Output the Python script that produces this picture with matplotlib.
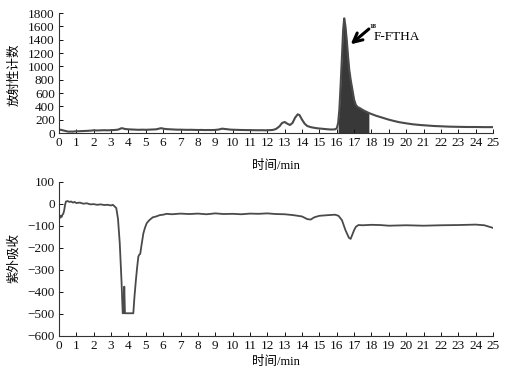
import numpy as np
import matplotlib
matplotlib.use("Agg")
import matplotlib.pyplot as plt

plt.rcParams['font.family'] = ['Liberation Serif', 'Noto Sans CJK SC']
plt.rcParams['axes.unicode_minus'] = True

# ---- data: radioactivity trace ----
t_rad = [0.0, 0.1, 0.2, 0.3, 0.4, 0.5, 0.6, 0.7, 0.8, 0.9, 1.0, 1.2, 1.4, 1.6, 1.8,
         2.0, 2.2, 2.4, 2.6, 2.8, 3.0, 3.2, 3.4, 3.6, 3.7, 3.8, 4.0, 4.2, 4.4, 4.6,
         4.8, 5.0, 5.2, 5.4, 5.6, 5.8, 5.9, 6.0, 6.2, 6.4, 6.6, 6.8, 7.0, 7.2, 7.4,
         7.6, 7.8, 8.0, 8.2, 8.4, 8.6, 8.8, 9.0, 9.2, 9.4, 9.5, 9.7, 9.9, 10.1, 10.3,
         10.5, 10.7, 10.9, 11.1, 11.3, 11.5, 11.7, 11.9, 12.1, 12.3, 12.5, 12.7, 12.85,
         13.0, 13.15, 13.3, 13.45, 13.6, 13.75, 13.85, 14.0, 14.15, 14.3, 14.5, 14.7,
         14.9, 15.1, 15.3, 15.5, 15.7, 15.9, 16.0, 16.08, 16.15, 16.22, 16.3, 16.37,
         16.43, 16.5, 16.58, 16.65, 16.72, 16.8, 16.9, 17.0, 17.1, 17.2, 17.35, 17.5,
         17.65, 17.8, 17.85, 18.0, 18.25, 18.5, 18.75, 19.0, 19.3, 19.6, 20.0, 20.4,
         20.8, 21.2, 21.6, 22.0, 22.5, 23.0, 23.5, 24.0, 24.5, 25.0]
counts = [50, 48, 42, 35, 28, 22, 20, 22, 20, 24, 25, 28, 30, 32, 35,
          40, 38, 40, 42, 40, 42, 45, 50, 72, 68, 60, 55, 52, 50, 48,
          50, 48, 50, 52, 55, 68, 72, 65, 58, 55, 52, 50, 50, 48, 47,
          48, 46, 45, 46, 44, 45, 44, 46, 52, 65, 62, 55, 50, 48, 46,
          45, 44, 43, 42, 42, 41, 42, 40, 42, 45, 60, 100, 150,
          165, 140, 120, 150, 230, 280, 270, 200, 140, 105, 88, 78,
          70, 65, 60, 55, 52, 55, 70, 150, 350, 700, 1150, 1550,
          1720, 1600, 1380, 1150, 950, 800, 650, 500, 420, 390, 370, 345,
          325, 305, 300, 285, 260, 240, 220, 200, 180, 162, 145, 130,
          120, 112, 105, 100, 95, 92, 90, 90, 88, 88]

# ---- data: UV trace ----
t_uv = [0.0, 0.05, 0.1, 0.15, 0.2, 0.25, 0.3, 0.35, 0.4, 0.5, 0.6, 0.7, 0.8, 0.9,
        1.0, 1.2, 1.4, 1.6, 1.8, 2.0, 2.2, 2.4, 2.6, 2.8, 3.0, 3.1, 3.2, 3.3, 3.4,
        3.5, 3.6, 3.67, 3.72, 3.76, 3.8, 4.0, 4.28, 4.35, 4.43, 4.5, 4.57, 4.62,
        4.68, 4.75, 4.86, 4.95, 5.05, 5.2, 5.4, 5.6, 5.8, 6.0, 6.2, 6.5, 7.0, 7.5,
        8.0, 8.5, 9.0, 9.5, 10.0, 10.5, 11.0, 11.5, 12.0, 12.5, 13.0, 13.5, 14.0,
        14.3, 14.5, 14.7, 15.0, 15.5, 15.9, 16.1, 16.3, 16.5, 16.7, 16.8, 16.9,
        17.0, 17.1, 17.25, 17.5, 18.0, 18.5, 19.0, 20.0, 21.0, 22.0, 23.0, 24.0,
        24.5, 25.0]
uv = [-60, -65, -55, -60, -50, -45, -30, -5, 10, 12, 8, 10, 5, 8,
      3, 5, 0, 2, -3, -2, -5, -3, -6, -5, -8, -5, -12, -20, -70,
      -180, -350, -498, -498, -377, -498, -498, -498, -420, -347, -290, -241, -232,
      -228, -190, -135, -110, -89, -75, -62, -58, -52, -50, -46, -48, -45, -47,
      -45, -48, -44, -47, -46, -48, -45, -46, -44, -47, -48, -52, -58,
      -70, -72, -62, -55, -52, -50, -55, -75, -120, -155, -160, -140,
      -120, -105, -97, -98, -96, -97, -100, -98, -100, -98, -97, -95,
      -98, -110]

fill_start, fill_end = 16.08, 17.85
x_ticks = list(range(0, 26))
rad_yticks = list(range(0, 1801, 200))
uv_yticks = list(range(-600, 101, 100))

line_color = '#4a4a4a'
fs = 9.5
cjk = ['Liberation Serif', 'Noto Sans CJK SC']

fig = plt.figure(figsize=(5.09, 3.80), dpi=100)

ax1 = fig.add_axes([59/509, 1-133/380, 434/509, 120/380])
ax2 = fig.add_axes([59/509, 1-335.7/380, 434/509, 154/380])

tr = np.array(t_rad)
cr = np.array(counts)
ax1.plot(tr, cr, color=line_color, lw=1.5)
mask = (tr >= fill_start) & (tr <= fill_end)
ax1.fill_between(tr[mask], 0, cr[mask], color='#383838', lw=0)
ax1.set_xlim(0, 25)
ax1.set_ylim(0, 1800)
ax1.set_yticks(rad_yticks)

ax2.plot(t_uv, uv, color=line_color, lw=1.3)
ax2.set_xlim(0, 25)
ax2.set_ylim(-600, 100)
ax2.set_yticks(uv_yticks)

for ax in (ax1, ax2):
    ax.set_xticks(x_ticks)
    for s in ('top', 'right'):
        ax.spines[s].set_visible(False)
    for s in ('left', 'bottom'):
        ax.spines[s].set_linewidth(0.8)
        ax.spines[s].set_color('#333333')
    ax.tick_params(direction='in', length=3, width=0.7, labelsize=fs, pad=3,
                   colors='#111111')
    for lab in ax.get_xticklabels() + ax.get_yticklabels():
        lab.set_fontfamily('Liberation Serif')

# annotation arrow and label
ax1.annotate('', xy=(16.8, 1330), xytext=(17.85, 1560),
             arrowprops=dict(arrowstyle='->', color='black', lw=2.2,
                             mutation_scale=16, shrinkA=0, shrinkB=0))
ax1.text(17.88, 1590, '18', fontsize=5, fontweight='bold', ha='left', va='center',
         family='Liberation Serif')
ax1.text(18.12, 1440, 'F-FTHA', fontsize=9.5, ha='left', va='center',
         family='Liberation Serif')

fig.text(14/509, 1-75/380, '放射性计数', rotation=90, ha='center', va='center',
         fontsize=9, family=cjk)
fig.text(14/509, 1-258/380, '紫外吸收', rotation=90, ha='center', va='center',
         fontsize=9, family=cjk)
fig.text(276/509, 1-166/380, '时间/min', ha='center', va='center',
         fontsize=9, family=cjk)
fig.text(276/509, 1-362/380, '时间/min', ha='center', va='center',
         fontsize=9, family=cjk)

fig.savefig('out.png', dpi=100)
